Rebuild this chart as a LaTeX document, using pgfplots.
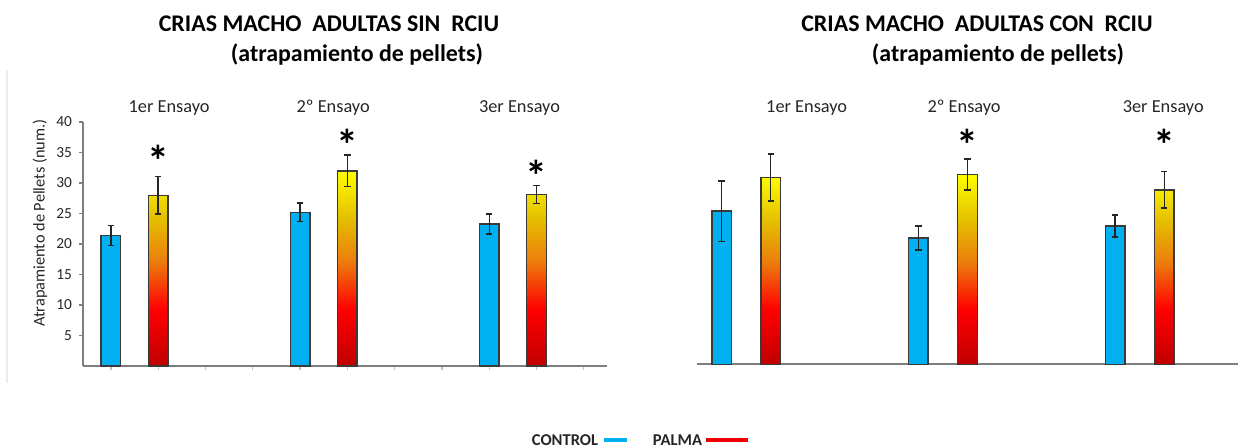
\documentclass[border=0pt]{standalone}
\usepackage{pgfplots}
\pgfplotsset{compat=1.18}
\usepackage{fontspec}
\setmainfont{Carlito}
\definecolor{ctrl}{HTML}{00B0F0}
\definecolor{barline}{HTML}{3A3A3A}
\definecolor{axgray}{HTML}{7F7F7F}
\definecolor{tickgray}{HTML}{BFBFBF}
\definecolor{pdark}{HTML}{C00000}
\definecolor{pred}{HTML}{FF0000}
\definecolor{porange}{HTML}{EC7E0C}
\definecolor{pgold}{HTML}{E4C000}
\definecolor{pyellow}{HTML}{FFFF00}
\definecolor{legred}{HTML}{F00000}
\pgfdeclareverticalshading{palma}{100bp}{color(0bp)=(pdark); color(25bp)=(pdark); color(39.5bp)=(pred); color(52bp)=(porange); color(63bp)=(pgold); color(75bp)=(pyellow); color(100bp)=(pyellow)}
\pgfplotsset{
  common/.style={
    scale only axis, height=122bp, ymin=0, ymax=40, clip=false,
    axis line style={draw=axgray, line width=0.8bp},
    tick align=outside, major tick length=2bp,
    /pgf/number format/assume math mode=true,
    tick label style={font=\fontsize{7.7}{9}\selectfont, text=black!85},
    error bars/y dir=both, error bars/y explicit,
    error bars/error bar style={black!85, line width=0.7bp},
    error bars/error mark options={black!85, rotate=90, line width=0.7bp, mark size=1.6bp},
  },
  ctrlbar/.style={ybar, bar width=9.75bp, bar shift=0pt, fill=ctrl, draw=barline, line width=0.7bp},
  palmabar/.style={ybar, bar width=9.75bp, bar shift=0pt, shade, shading=palma, draw=barline, line width=0.7bp},
}
\tikzset{
  ast/.style={font=\fontsize{22}{22}\selectfont\bfseries, inner sep=0pt},
  ens/.style={font=\fontsize{9.2}{11}\selectfont, text=black!85},
  ttl/.style={font=\fontsize{12}{14}\selectfont\bfseries, text=black},
}
\begin{document}
\begin{tikzpicture}
\path[use as bounding box] (0,0) rectangle (620bp,224bp);
\draw[black!8, line width=0.7bp] (3.5bp,32.5bp) -- (3.5bp,189bp);
\begin{axis}[common, at={(41.5bp,41bp)}, anchor=south west, width=262bp,
  xmin=-0.59, xmax=10.49,
  axis x line*=bottom, axis y line*=left,
  xtick={0,...,10}, xticklabels={},
  ytick={5,10,...,40},
  x tick style={draw=tickgray, line width=0.6bp},
  y tick style={draw=axgray, line width=0.7bp},
]
\addplot[ctrlbar] coordinates {(0,21.4) +- (0,1.6) (4,25.2) +- (0,1.5) (8,23.3) +- (0,1.65)};
\addplot[palmabar] coordinates {(1,28.0) +- (0,3.1) (5,32.0) +- (0,2.6) (9,28.1) +- (0,1.45)};
\node[ast] at (axis cs:1,33.6) {*};
\node[ast] at (axis cs:5,36.2) {*};
\node[ast] at (axis cs:9,31.2) {*};
\node[ens] at (axis cs:1.23,42.3) {1er Ensayo};
\node[ens] at (axis cs:4.70,42.3) {2º Ensayo};
\node[ens] at (axis cs:8.64,42.3) {3er Ensayo};
\end{axis}
\begin{axis}[common, at={(348.5bp,41.85bp)}, anchor=south west, width=270.5bp,
  xmin=-0.5, xmax=10.5,
  axis x line*=bottom, axis y line=none,
  xtick=\empty, ytick=\empty,
]
\addplot[ctrlbar] coordinates {(0,25.1) +- (0,4.95) (4,20.7) +- (0,1.95) (8,22.7) +- (0,1.8)};
\addplot[palmabar] coordinates {(1,30.6) +- (0,3.85) (5,31.1) +- (0,2.55) (9,28.6) +- (0,3.0)};
\node[ast] at (axis cs:5,36.0) {*};
\node[ast] at (axis cs:9,36.0) {*};
\node[ens] at (axis cs:1.73,42.0) {1er Ensayo};
\node[ens] at (axis cs:4.93,42.0) {2º Ensayo};
\node[ens] at (axis cs:8.98,42.0) {3er Ensayo};
\end{axis}
\node[rotate=90, font=\fontsize{8.2}{10}\selectfont, text=black!85] at (20bp,112.5bp) {Atrapamiento de Pellets (num.)};
\node[ttl] at (164.5bp,212bp) {CRIAS MACHO~~ADULTAS SIN~~RCIU};
\node[ttl] at (178.5bp,196.5bp) {(atrapamiento de pellets)};
\node[ttl] at (488.5bp,212bp) {CRIAS MACHO~~ADULTAS CON~~RCIU};
\node[ttl] at (499bp,196.5bp) {(atrapamiento de pellets)};
\node[font=\fontsize{8.3}{9}\selectfont\bfseries, text=black!85] at (282.5bp,4bp) {CONTROL};
\draw[ctrl, line width=1.6bp] (302bp,4bp) -- (313.5bp,4bp);
\node[font=\fontsize{8.3}{9}\selectfont\bfseries, text=black!85] at (338.75bp,4bp) {PALMA};
\draw[legred, line width=1.6bp] (353bp,4bp) -- (374bp,4bp);
\end{tikzpicture}
\end{document}
